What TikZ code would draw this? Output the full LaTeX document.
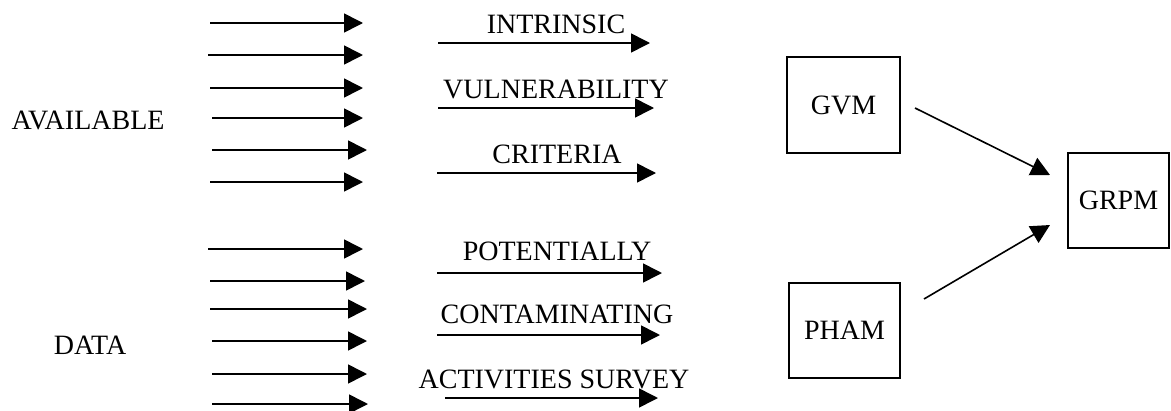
\documentclass[tikz,border=0pt]{standalone}
\usepackage{fontspec}
\setmainfont{Liberation Serif}
\usetikzlibrary{arrows.meta}
\tikzset{
  arr/.style={line width=1.6pt,-{Triangle[length=19pt,width=19pt]}},
  lbl/.style={anchor=base,inner sep=0pt,font=\fontsize{28}{33}\selectfont},
  box/.style={draw,line width=2pt,inner sep=0pt,font=\fontsize{28}{33}\selectfont}
}
\begin{document}
\begin{tikzpicture}[x=1pt,y=-1pt]
\useasboundingbox (0,0) rectangle (1171,410);
% left labels
\node[lbl] (avail) at (88,129) {AVAILABLE};
\node[lbl] (data) at (90,354) {DATA};
% left arrows
\foreach \i/\a/\b/\y in {1/210/363/23,2/208/363/55,3/210/363/88,4/212/363/118,5/212/367/150,6/210/363/182,7/208/363/249,8/210/365/281,9/210/367/309,10/212/367/341,11/212/367/374,12/212/368/404}{
  \coordinate (ls\i) at (\a,\y);
  \coordinate (le\i) at (\b,\y);
  \draw[arr] (ls\i) -- (le\i);
}
% middle arrows
\foreach \i/\a/\b/\y in {1/438/650/43,2/438/654/108,3/437/656/173,4/437/662/273,5/437/660/335,6/445/658/398}{
  \coordinate (ms\i) at (\a,\y);
  \coordinate (me\i) at (\b,\y);
  \draw[arr] (ms\i) -- (me\i);
}
% middle labels
\node[lbl] (t1) at (556,33) {INTRINSIC};
\node[lbl] (t2) at (556,98) {VULNERABILITY};
\node[lbl] (t3) at (557,163) {CRITERIA};
\node[lbl] (t4) at (557,260) {POTENTIALLY};
\node[lbl] (t5) at (557,323) {CONTAMINATING};
\node[lbl] (t6) at (554,388) {ACTIVITIES SURVEY};
% boxes
\node[box,minimum width=113pt,minimum height=96pt] (gvm) at (843.5,105) {GVM};
\node[box,minimum width=111pt,minimum height=95pt] (pham) at (844.5,330.5) {PHAM};
\node[box,minimum width=101pt,minimum height=95pt] (grpm) at (1118.5,200.5) {GRPM};
% connectors
\coordinate (g1) at (915,108);
\coordinate (g2) at (1050,175);
\coordinate (p1) at (924,299);
\coordinate (p2) at (1050,225);
\draw[arr] (g1) -- (g2);
\draw[arr] (p1) -- (p2);
\end{tikzpicture}
\end{document}
